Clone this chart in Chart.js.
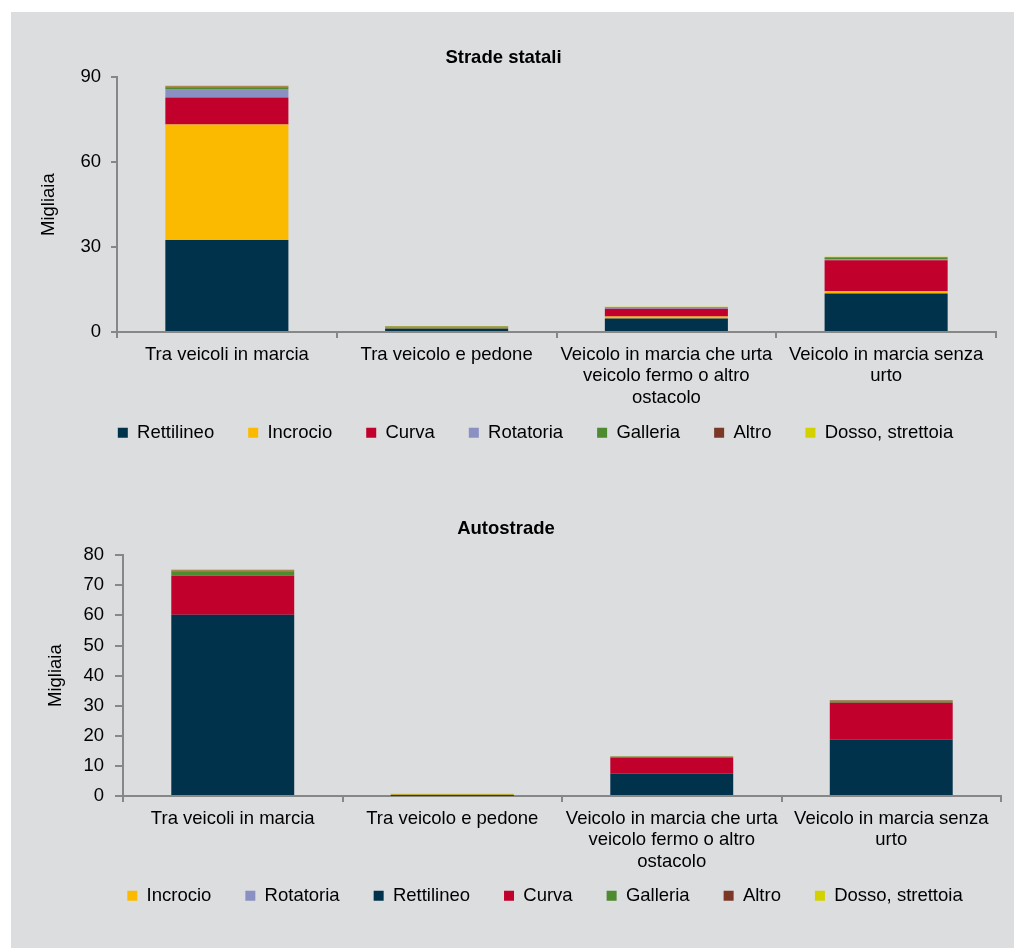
<!DOCTYPE html>
<html>
<head>
<meta charset="utf-8">
<script src="https://cdn.jsdelivr.net/npm/chart.js@4.4.1/dist/chart.umd.min.js"></script>
<style>
  html, body { margin: 0; padding: 0; background: #ffffff; }
  .sheet { position: absolute; left: 11px; top: 12px; width: 1003px; height: 936px; background: #dcdddf; }
  .box { position: absolute; left: 0; width: 1003px; height: 468px; }
  #top-box { top: 0; }
  #bottom-box { top: 468px; }
</style>
</head>
<body>
<div class="sheet">
  <div class="box" id="top-box"><canvas id="statali-chart"></canvas></div>
  <div class="box" id="bottom-box"><canvas id="autostrade-chart"></canvas></div>
</div>
<script>
const categories = [
  'Tra veicoli in marcia',
  'Tra veicolo e pedone',
  ['Veicolo in marcia che urta', 'veicolo fermo o altro', 'ostacolo'],
  ['Veicolo in marcia senza', 'urto']
];

// Strade statali (migliaia)
const stataliRettilineo = [32.5, 1.2, 4.8, 13.6];
const stataliIncrocio = [40.8, 0.3, 0.7, 0.8];
const stataliCurva = [9.5, 0.2, 2.7, 10.9];
const stataliRotatoria = [3.0, 0.1, 0.4, 0.3];
const stataliGalleria = [0.6, 0.05, 0.1, 0.5];
const stataliAltro = [0.3, 0.1, 0.1, 0.2];
const stataliDosso = [0.4, 0.2, 0.1, 0.3];

// Autostrade (migliaia)
const autoIncrocio = [0, 0, 0, 0];
const autoRotatoria = [0, 0, 0, 0];
const autoRettilineo = [60.2, 0.1, 7.5, 18.7];
const autoCurva = [13.0, 0.1, 5.2, 12.3];
const autoGalleria = [1.4, 0.05, 0.3, 0.5];
const autoAltro = [0.3, 0.2, 0.1, 0.2];
const autoDosso = [0.4, 0.3, 0.1, 0.1];

const colors = {
  Rettilineo: '#00324c',
  Incrocio: '#fbba00',
  Curva: '#c1002b',
  Rotatoria: '#8b90c2',
  Galleria: '#4e8a2f',
  Altro: '#7b3826',
  'Dosso, strettoia': '#d3d100'
};

document.addEventListener('DOMContentLoaded', () => {

  Chart.defaults.font.family = '"Liberation Sans", Arial, sans-serif';
  Chart.defaults.color = '#111111';

  const ds = (label, data) => ({
    label: label,
    data: data,
    backgroundColor: colors[label],
    borderWidth: 0,
    barPercentage: 0.56,
    categoryPercentage: 1
  });

  // the legend spacing is wide, so it is drawn a bit higher and to the right
  const legendShift = (dx, dy) => ({
    id: 'legendShift',
    afterLayout(chart) {
      const legend = chart.legend;
      legend.left += dx;
      legend.right += dx;
      legend.top -= dy;
      legend.bottom -= dy;
    }
  });

  // data

  const stataliData = {
    labels: categories,
    datasets: [
      ds('Rettilineo', stataliRettilineo),
      ds('Incrocio', stataliIncrocio),
      ds('Curva', stataliCurva),
      ds('Rotatoria', stataliRotatoria),
      ds('Galleria', stataliGalleria),
      ds('Altro', stataliAltro),
      ds('Dosso, strettoia', stataliDosso)
    ]
  };

  const autostradeData = {
    labels: categories,
    datasets: [
      ds('Incrocio', autoIncrocio),
      ds('Rotatoria', autoRotatoria),
      ds('Rettilineo', autoRettilineo),
      ds('Curva', autoCurva),
      ds('Galleria', autoGalleria),
      ds('Altro', autoAltro),
      ds('Dosso, strettoia', autoDosso)
    ]
  };

  // configs

  const makeConfig = (data, o) => ({
    type: 'bar',
    data: data,
    plugins: [legendShift(o.dx, o.dy)],
    options: {
      responsive: true,
      maintainAspectRatio: false,
      animation: false,
      layout: { padding: { left: 0, right: o.right, top: 0, bottom: 0 } },
      plugins: {
        title: {
          display: true,
          text: o.title,
          color: '#000000',
          font: { size: 18.5, weight: 'bold' },
          padding: { top: o.titleTop, bottom: o.titleBottom }
        },
        legend: {
          position: 'bottom',
          labels: {
            boxWidth: 10,
            boxHeight: 10,
            padding: 34,
            color: '#000000',
            font: { size: 18.5 }
          }
        },
        tooltip: { enabled: false }
      },
      scales: {
        x: {
          stacked: true,
          afterFit: (scale) => { scale.height = o.xHeight; },
          border: { color: '#878787', width: 2 },
          grid: { offset: true, drawOnChartArea: false, tickLength: 6, color: '#878787', lineWidth: 2 },
          ticks: { maxRotation: 0, autoSkip: false, padding: 6, color: '#000000', font: { size: 18.5, lineHeight: 1.16 } }
        },
        y: {
          stacked: true,
          min: 0,
          max: o.max,
          afterFit: (scale) => { scale.width = o.yWidth; },
          border: { color: '#878787', width: 2 },
          grid: { drawOnChartArea: false, tickLength: o.yTick, color: '#878787', lineWidth: 2 },
          ticks: { stepSize: o.step, padding: o.yPad, color: '#000000', font: { size: 18.5 } },
          title: {
            display: true,
            text: 'Migliaia',
            color: '#000000',
            font: { size: 18.5 },
            padding: { top: o.yTitleTop, bottom: 0 }
          }
        }
      }
    }
  });

  const stataliConfig = makeConfig(stataliData, {
    title: 'Strade statali', max: 90, step: 30,
    right: 18, titleTop: 35, titleBottom: 8,
    xHeight: 85.5, yWidth: 106, yTick: 6, yPad: 10, yTitleTop: 27,
    dx: 32, dy: 28
  });

  const autostradeConfig = makeConfig(autostradeData, {
    title: 'Autostrade', max: 80, step: 10,
    right: 13, titleTop: 38, titleBottom: 15,
    xHeight: 89.5, yWidth: 112, yTick: 8, yPad: 11, yTitleTop: 34,
    dx: 39, dy: 33
  });

  // charts

  const stataliChart = new Chart(
      document.getElementById('statali-chart'),
      stataliConfig
    );

  const autostradeChart = new Chart(
      document.getElementById('autostrade-chart'),
      autostradeConfig
    );
});
</script>
</body>
</html>
